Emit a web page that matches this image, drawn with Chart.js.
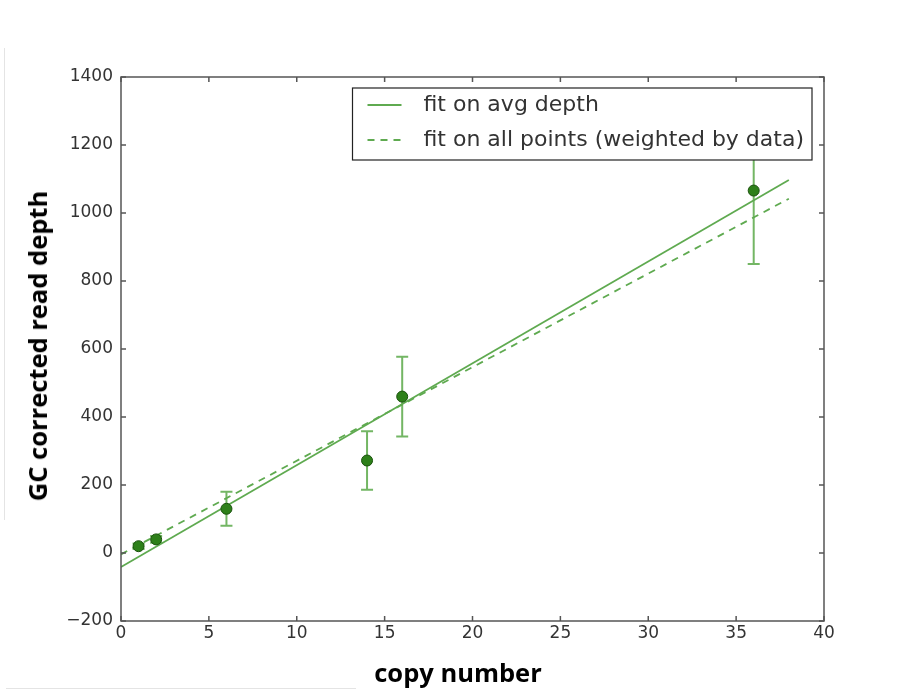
<!DOCTYPE html>
<html>
<head>
<meta charset="utf-8">
<script src="https://cdn.jsdelivr.net/npm/chart.js@4.4.1/dist/chart.umd.min.js"></script>
<style>
    html, body { margin: 0; padding: 0; background: #fff; }
    #wrap { position: relative; width: 905px; height: 691px; overflow: hidden; }
    #plot { position: absolute; left: 0; top: 0; }
    .axis-title { position: absolute; font-family: "Open Sans", "Noto Sans", sans-serif; font-weight: 700; font-size: 25.5px; color: #000; white-space: nowrap; }
    #ytitle { left: 37px; top: 346px; transform: translate(-50%, -50%) rotate(-90deg); }
    #xtitle { left: 458px; top: 672px; transform: translate(-50%, -50%); }
    .edge { position: absolute; background: #e4e4e4; }
</style>
</head>
<body>
<div id="wrap">
    <div class="edge" style="left:4px;top:48px;width:1px;height:472px"></div>
    <div class="edge" style="left:6px;top:688px;width:350px;height:1px"></div>
    <canvas id="plot" width="905" height="691"></canvas>
    <div class="axis-title" id="ytitle">GC corrected read depth</div>
    <div class="axis-title" id="xtitle">copy number</div>
</div>
<script>
// measured copy numbers and mean read depth with error
const copyNumber = [1, 2, 6, 14, 16, 36];
const avgDepth = [20, 40, 130, 272, 460, 1066];
const depthErr = [8, 10, 50, 86, 117, 216];

// end points of the two fitted lines
const fitX = [0, 38];
const fitAvg = [-41, 1097];
const fitAll = [-4, 1042];

const legendLabels = ['fit on avg depth', 'fit on all points (weighted by data)'];

const lineGreen = 'rgba(95,170,80,1)';
const barGreen = 'rgba(115,182,100,1)';

const toPts = (xs, ys) => xs.map((x, i) => ({ x: x, y: ys[i] }));

// error bars under the markers
const errorBars = {
    id: 'errorBars',
    beforeDatasetsDraw(chart) {
        const { ctx, scales: { x, y } } = chart;
        ctx.save();
        ctx.strokeStyle = barGreen;
        ctx.lineWidth = 2;
        copyNumber.forEach((c, i) => {
            const px = x.getPixelForValue(c);
            const top = y.getPixelForValue(avgDepth[i] + depthErr[i]);
            const bot = y.getPixelForValue(avgDepth[i] - depthErr[i]);
            ctx.beginPath();
            ctx.moveTo(px, top); ctx.lineTo(px, bot);
            ctx.moveTo(px - 6, top); ctx.lineTo(px + 6, top);
            ctx.moveTo(px - 6, bot); ctx.lineTo(px + 6, bot);
            ctx.stroke();
        });
        ctx.restore();
    }
};

// axes box with inward ticks on all four sides
const frame = {
    id: 'frame',
    afterDatasetsDraw(chart) {
        const { ctx, chartArea: a, scales: { x, y } } = chart;
        ctx.save();
        ctx.strokeStyle = '#555';
        ctx.lineWidth = 1.5;
        ctx.beginPath();
        x.ticks.forEach(t => {
            const px = x.getPixelForValue(t.value);
            ctx.moveTo(px, a.bottom); ctx.lineTo(px, a.bottom - 5);
            ctx.moveTo(px, a.top); ctx.lineTo(px, a.top + 5);
        });
        y.ticks.forEach(t => {
            const py = y.getPixelForValue(t.value);
            ctx.moveTo(a.left, py); ctx.lineTo(a.left + 5, py);
            ctx.moveTo(a.right, py); ctx.lineTo(a.right - 5, py);
        });
        ctx.stroke();
        ctx.strokeRect(a.left, a.top, a.right - a.left, a.bottom - a.top);
        ctx.restore();
    }
};

// legend box in the upper right corner
const boxLegend = {
    id: 'boxLegend',
    afterDraw(chart) {
        const { ctx, chartArea: a } = chart;
        ctx.save();
        ctx.font = '22px "DejaVu Sans"';
        const tw = Math.max(...legendLabels.map(l => ctx.measureText(l).width));
        const w = 71 + tw + 8;
        const h = 72;
        const bx = a.right - 12 - w;
        const by = a.top + 11;
        ctx.fillStyle = '#fff';
        ctx.fillRect(bx, by, w, h);
        ctx.strokeStyle = '#222';
        ctx.lineWidth = 1.2;
        ctx.strokeRect(bx, by, w, h);
        legendLabels.forEach((l, i) => {
            const ly = by + 17 + i * 35;
            ctx.strokeStyle = lineGreen;
            ctx.lineWidth = 1.8;
            ctx.setLineDash(i === 1 ? [7, 6] : []);
            ctx.beginPath();
            ctx.moveTo(bx + 15, ly); ctx.lineTo(bx + 49, ly);
            ctx.stroke();
            ctx.fillStyle = '#333';
            ctx.textBaseline = 'middle';
            ctx.fillText(l, bx + 71, ly);
        });
        ctx.restore();
    }
};

new Chart(document.getElementById('plot').getContext('2d'), {
    type: 'scatter',
    data: {
        datasets: [
            {
                label: 'data',
                data: toPts(copyNumber, avgDepth),
                pointRadius: 5.5,
                pointBackgroundColor: 'rgb(45,128,25)',
                pointBorderColor: 'rgb(25,80,12)',
                pointBorderWidth: 1,
                order: 0
            },
            {
                label: legendLabels[0],
                type: 'line',
                data: toPts(fitX, fitAvg),
                borderColor: lineGreen,
                borderWidth: 1.8,
                pointRadius: 0,
                fill: false,
                order: 1
            },
            {
                label: legendLabels[1],
                type: 'line',
                data: toPts(fitX, fitAll),
                borderColor: lineGreen,
                borderWidth: 1.8,
                borderDash: [7, 6],
                pointRadius: 0,
                fill: false,
                order: 2
            }
        ]
    },
    options: {
        responsive: false,
        animation: false,
        layout: { padding: { top: 77, right: 81, left: 0, bottom: 0 } },
        scales: {
            x: {
                type: 'linear',
                min: 0,
                max: 40,
                ticks: { stepSize: 5, color: '#333', font: { family: 'DejaVu Sans', size: 17 }, padding: 2 },
                grid: { display: false, drawTicks: false },
                border: { display: false },
                afterFit: s => { s.height = 70; }
            },
            y: {
                min: -200,
                max: 1400,
                ticks: {
                    stepSize: 200,
                    color: '#333',
                    font: { family: 'DejaVu Sans', size: 17 },
                    padding: 8,
                    callback: v => String(v).replace('-', '\u2212')
                },
                grid: { display: false, drawTicks: false },
                border: { display: false },
                afterFit: s => { s.width = 121; }
            }
        },
        plugins: {
            legend: { display: false },
            tooltip: { enabled: false }
        }
    },
    plugins: [errorBars, frame, boxLegend]
});
</script>
</body>
</html>
